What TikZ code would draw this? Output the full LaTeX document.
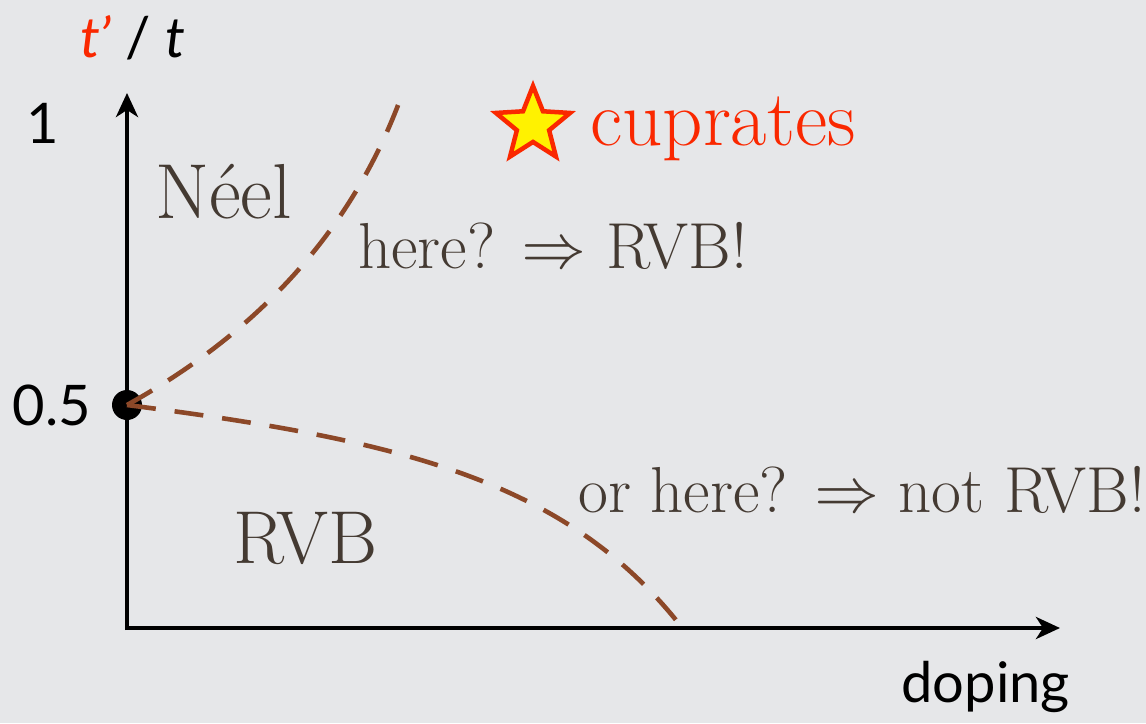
\documentclass[tikz,border=0pt]{standalone}
\usepackage{fontspec}
\usetikzlibrary{shapes.geometric,arrows.meta}
\newfontfamily\labelfont{Lato}
\newfontfamily\arrowfont{latinmodern-math.otf}
\definecolor{paper}{RGB}{230,231,233}
\definecolor{ink}{RGB}{68,58,50}
\definecolor{hot}{RGB}{250,40,0}
\definecolor{boundary}{RGB}{140,72,40}
\tikzset{
  axis/.style={line width=4.4pt, -{Stealth[length=24pt,width=22pt,inset=7pt]}},
  phaseline/.style={boundary, line width=4.6pt, dash pattern=on 29pt off 19pt},
  region/.style={text=ink, inner sep=0pt},
  remark/.style={text=ink, inner sep=0pt, font=\fontsize{65}{65}\selectfont},
  ticklabel/.style={inner sep=0pt, font=\labelfont\fontsize{56}{56}\selectfont},
}
\begin{document}
\begin{tikzpicture}[x=1pt,y=-1pt]
  % backdrop
  \fill[paper] (0,0) rectangle (1146,723);
  \useasboundingbox (0,0) rectangle (1146,723);

  % axes
  \coordinate (origin) at (127,630);
  \coordinate (ytip) at (127,93);
  \coordinate (xtip) at (1060,628);
  \draw[axis] (127,630) -- (ytip);
  \draw[axis] (125,628) -- (xtip);

  % critical point at t'/t = 0.5
  \node[circle, fill=black, minimum size=30pt, inner sep=0pt] (crit) at (127,405) {};
  \coordinate (upperend) at (400,100);
  \coordinate (lowerend) at (680,625);

  % phase boundaries
  \draw[phaseline] (crit.center) .. controls (262,330) and (352,228) .. (upperend);
  \draw[phaseline] (crit.center) .. controls (400,440) and (565,480) .. (lowerend);

  % axis labels
  \node[ticklabel, anchor=base] (ratio) at (133,57) {\textcolor{hot}{\itshape t’} / \itshape t};
  \node[ticklabel, anchor=base] (one) at (43,143) {1};
  \node[ticklabel, anchor=base east] (half) at (91,425) {0.5};
  \node[ticklabel, anchor=base east] (doping) at (1070,702) {doping};

  % phases
  \node[region, anchor=base west, font=\fontsize{78}{78}\selectfont] (neel) at (155,218) {Néel};
  \node[region, anchor=base west, font=\fontsize{75}{75}\selectfont] (rvb) at (233,563) {RVB};

  % the cuprates
  \node[star, star points=5, star point ratio=2.3, minimum size=78pt, inner sep=0pt,
        fill=yellow, draw=hot, line width=4.5pt] (star) at (533,125) {};
  \node[text=hot, inner sep=0pt, anchor=base west, font=\fontsize{79}{79}\selectfont] (cuprates) at (590,145) {cuprates};

  % questions
  \node[remark, anchor=base west] (q1) at (358,268) {here? {\arrowfont ⇒} RVB!};
  \node[remark, anchor=base west] (q2) at (578,512) {or here? {\arrowfont ⇒} not RVB!};
\end{tikzpicture}
\end{document}
